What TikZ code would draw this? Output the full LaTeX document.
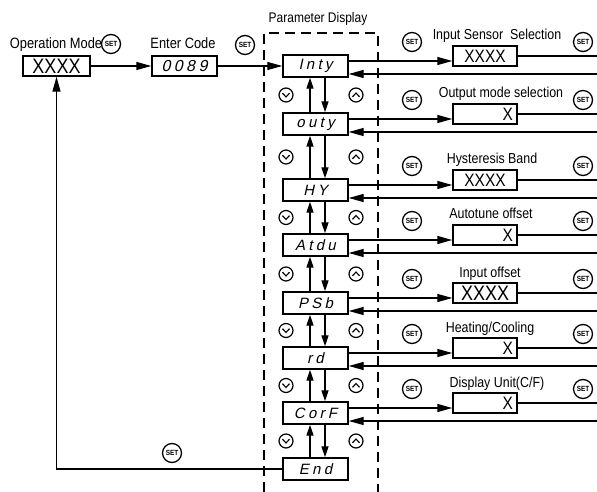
\documentclass[tikz,border=0pt]{standalone}
\usepackage{fontspec}
\setmainfont{Liberation Sans}[FakeStretch=0.86]
\newfontfamily\segfont{Liberation Sans}[FakeSlant=0.22, LetterSpace=22]
\usetikzlibrary{arrows.meta,calc}
\begin{document}
\begin{tikzpicture}[x=1bp,y=-1bp,
  lw/.style={line width=1.3bp},
  pbox/.style={draw,line width=1.4bp,minimum width=65bp,minimum height=22bp,inner sep=0pt,font=\segfont\fontsize{15}{15}\selectfont},
  vbox/.style={draw,line width=1.4bp,minimum width=64bp,minimum height=20bp,inner sep=0pt},
  setc/.style={circle,draw,line width=1.3bp,minimum size=19bp,inner sep=0pt,font=\fontsize{7.5}{7.5}\selectfont\bfseries},
  lbl/.style={anchor=base,inner sep=0pt,font=\fontsize{14.5}{14.5}\selectfont},
  harr/.style={lw,-{Triangle[length=15bp,width=8bp]}},
  varr/.style={lw,-{Triangle[length=11bp,width=7bp]}},
  chev/.style={circle,draw,line width=1.2bp,minimum size=14bp,inner sep=0pt},
  dchev/.style={chev,path picture={\draw[line width=1.2bp]
      ([xshift=-3.6bp,yshift=1.8bp]path picture bounding box.center) --
      ([yshift=-1.9bp]path picture bounding box.center) --
      ([xshift=3.6bp,yshift=1.8bp]path picture bounding box.center);}},
  uchev/.style={chev,path picture={\draw[line width=1.2bp]
      ([xshift=-3.6bp,yshift=-1.8bp]path picture bounding box.center) --
      ([yshift=1.9bp]path picture bounding box.center) --
      ([xshift=3.6bp,yshift=-1.8bp]path picture bounding box.center);}},
  frame/.style={line width=1.3bp,dash pattern=on 10bp off 6bp},
]
\useasboundingbox (0,0) rectangle (597,492);
\coordinate (R) at (597,0);
\coordinate (DL) at (286,0);
\coordinate (UL) at (356,0);

% Parameter display frame
\draw[frame] (264,492) -- (264,33) -- (378,33) -- (378,492);
\node[lbl,font=\fontsize{14}{14}\selectfont] (pd) at (318,23) {Parameter Display};

% left part
\node[draw,line width=1.4bp,minimum width=67bp,minimum height=20bp,inner sep=0pt,font=\fontsize{21}{21}\selectfont] (op) at (56.5,66) {XXXX};
\node[lbl,font=\fontsize{15}{15}\selectfont] (opl) at (56,49) {Operation Mode};
\node[setc] (s0) at (111,44) {SET};
\node[draw,line width=1.4bp,minimum width=65bp,minimum height=20bp,inner sep=0pt,font=\segfont\fontsize{16}{16}\selectfont] (ec) at (184.5,66) {0089};
\node[lbl,font=\fontsize{15}{15}\selectfont] (ecl) at (183,49) {Enter Code};
\node[setc] (se) at (245,45) {SET};

% parameter boxes
\foreach \i/\c/\t in {1/66/Inty,2/124/outy,3/190/HY,4/245/Atdu,5/303/PSb,6/358/rd,7/413/CorF,8/469/End}
  \node[pbox] (p\i) at (315.5,\c) {\t};

\draw[harr] (op.east) -- (ec.west);
\draw[harr] (ec.east) -- (p1.west);
\draw[harr] (p8.west) -| (op.south);
\node[setc] (sf) at (172,453) {SET};

% up/down arrows and chevrons
\foreach \i [evaluate=\i as \j using int(\i+1)] in {1,...,7}{
  \draw[varr] ([xshift=-5.5bp]p\j.north) -- ([xshift=-5.5bp]p\i.south);
  \draw[varr] ([xshift=9.5bp]p\i.south) -- ([xshift=9.5bp]p\j.north);
  \path (p\i.south) -- (p\j.north) coordinate[midway] (m\i);
  \node[dchev] (dc\i) at (m\i -| DL) {};
  \node[uchev] (uc\i) at (m\i -| UL) {};
}

% right rows
\foreach \i/\c/\lab/\lx/\val/\al/\fs in {
  1/66/{Input Sensor\ \ Selection}/497/XXXX/center/18,
  2/124/{Output mode selection}/501/X/right/18,
  3/190/{Hysteresis Band}/492/XXXX/center/18,
  4/245/{Autotune offset}/491/X/right/18,
  5/303/{Input offset}/490/XXXX/center/21,
  6/358/{Heating/Cooling}/490/X/right/18,
  7/413/{Display Unit(C/F)}/497/X/right/18}{
  \node[vbox,text width=56bp,align=\al,font=\fontsize{\fs}{\fs}\selectfont] (v\i) at (485,\c-10) {\val};
  \node[lbl] (l\i) at (\lx,\c-26) {\lab};
  \node[setc] (sa\i) at (412,\c-24) {SET};
  \node[setc] (sb\i) at (583,\c-24) {SET};
  \draw[harr] ([yshift=5bp]p\i.east) -- ([yshift=5bp]p\i.east -| v\i.west);
  \draw[lw] (v\i.east) -- (v\i.east -| R);
  \draw[harr] ([yshift=-8bp]p\i.east -| R) -- ([yshift=-8bp]p\i.east);
}
\end{tikzpicture}
\end{document}
